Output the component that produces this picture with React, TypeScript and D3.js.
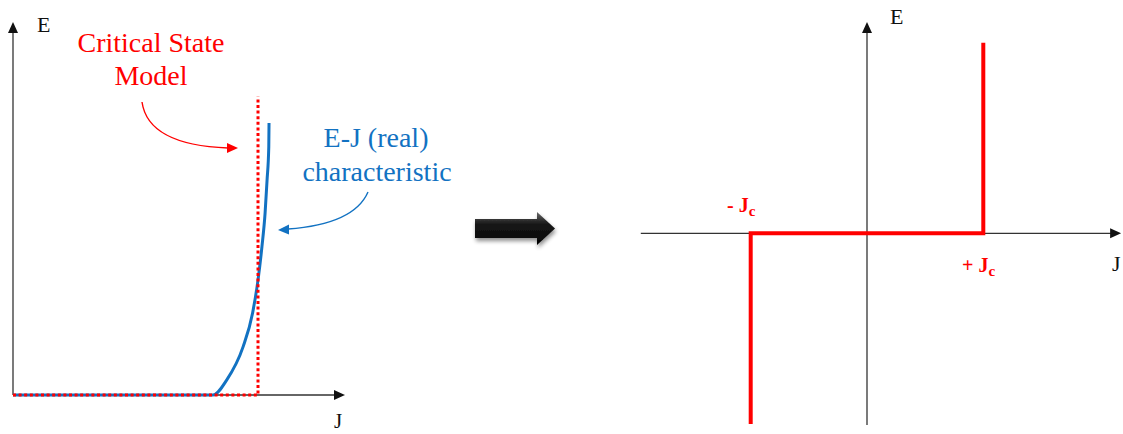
import React from "react";
import * as d3 from "d3";

// ---- Data ----
// Left panel: real E-J characteristic (J in units of Jc, E normalised)
const realJ = [0, 0.816, 0.872, 0.939, 0.978, 1.0, 1.016, 1.029, 1.037, 1.044, 1.045];
const realE = [0, 0, 0.04, 0.129, 0.22, 0.308, 0.397, 0.488, 0.576, 0.665, 0.729];
// Critical state model (left panel)
const csmJ = [0, 1, 1];
const csmE = [0, 0, 0.8];
// Right panel: critical state model step
const stepJ = [-1, -1, 1, 1];
const stepE = [-1, 0, 0, 1];
// Axis extents
const leftJMax = 1.355;
const leftEMax = 1.0;
const rightJRange = [-1.945, 2.185];
const rightERange = [-1.005, 1.109];
const labels = {
  csm: ["Critical State", "Model"],
  real: ["E-J (real)", "characteristic"],
  E: "E",
  J: "J",
};

const RED = "#ff0000";
const BLUE = "#1272c2";
const AX = "#333";

export default function App() {
  const xL = d3.scaleLinear().domain([0, 1]).range([13, 258]);
  const yL = d3.scaleLinear().domain([0, 1]).range([395, 22]);
  const xR = d3.scaleLinear().domain([-1, 1]).range([750.7, 983.3]);
  const yR = d3.scaleLinear().domain([-1, 1]).range([424, 42.7]);

  const realPts: [number, number][] = realJ.map((j, i) => [xL(j), yL(realE[i])]);
  const realPath = d3.line().curve(d3.curveMonotoneX)(realPts) || "";
  const csmPath = d3.line()(csmJ.map((j, i) => [xL(j), yL(csmE[i])] as [number, number])) || "";
  const stepPath = d3.line()(stepJ.map((j, i) => [xR(j), yR(stepE[i])] as [number, number])) || "";

  const serif: React.CSSProperties = { fontFamily: "'Liberation Serif', 'DejaVu Serif', serif" };

  const arrowUp = (x: number, y: number) => `M${x},${y} L${x - 5},${y + 11} L${x + 5},${y + 11} Z`;
  const arrowRight = (x: number, y: number) => `M${x},${y} L${x - 11},${y - 5} L${x - 11},${y + 5} Z`;

  return (
    <svg
      width={1123}
      height={434}
      style={{ position: "absolute", left: 0, top: 0, background: "#fff" }}
    >
      <defs>
        <linearGradient id="bigArrow" x1="0" y1="0" x2="0" y2="1">
          <stop offset="0" stopColor="#6a6a6a" />
          <stop offset="0.35" stopColor="#1a1a1a" />
          <stop offset="1" stopColor="#000" />
        </linearGradient>
        <filter id="shadow" x="-20%" y="-40%" width="150%" height="190%">
          <feGaussianBlur in="SourceAlpha" stdDeviation="2" />
          <feOffset dx="1" dy="3" result="b" />
          <feComponentTransfer>
            <feFuncA type="linear" slope="0.45" />
          </feComponentTransfer>
          <feMerge>
            <feMergeNode />
            <feMergeNode in="SourceGraphic" />
          </feMerge>
        </filter>
      </defs>

      {/* ---------- Left panel ---------- */}
      <line x1={xL(0)} y1={yL(0)} x2={xL(0)} y2={yL(leftEMax) + 10} stroke={AX} strokeWidth={1.3} />
      <path d={arrowUp(xL(0), yL(leftEMax))} fill="#111" />
      <line x1={xL(0)} y1={yL(0)} x2={xL(leftJMax) - 10} y2={yL(0)} stroke={AX} strokeWidth={1.3} />
      <path d={arrowRight(xL(leftJMax), yL(0))} fill="#111" />
      <text x={37} y={32} fontSize={22} fill="#111" style={serif}>{labels.E}</text>
      <text x={334} y={428} fontSize={21} fill="#111" style={serif}>{labels.J}</text>

      <path d={realPath} fill="none" stroke={BLUE} strokeWidth={3} />
      <path d={csmPath} fill="none" stroke={RED} strokeWidth={3} strokeDasharray="3,2.6" />

      <text x={151} y={52} fontSize={28} fill={RED} textAnchor="middle" style={serif}>{labels.csm[0]}</text>
      <text x={151} y={85} fontSize={28} fill={RED} textAnchor="middle" style={serif}>{labels.csm[1]}</text>
      <path d="M142,102 C146,130 175,146 228,148" fill="none" stroke={RED} strokeWidth={1.4} />
      <path d="M238,148 L227,143 L227,153 Z" fill={RED} />

      <text x={376} y={147} fontSize={28} fill={BLUE} textAnchor="middle" style={serif}>{labels.real[0]}</text>
      <text x={377} y={181} fontSize={28} fill={BLUE} textAnchor="middle" style={serif}>{labels.real[1]}</text>
      <path d="M368,192 C358,215 330,226 288,229" fill="none" stroke={BLUE} strokeWidth={1.4} />
      <path d="M278,230 L289,224.5 L289,234.5 Z" fill={BLUE} />

      {/* ---------- Big arrow ---------- */}
      <path
        d="M475,219 L537,219 L537,212 L555,228.5 L537,245 L537,238 L475,238 Z"
        fill="url(#bigArrow)"
        filter="url(#shadow)"
      />

      {/* ---------- Right panel ---------- */}
      <line x1={xR(0)} y1={yR(rightERange[0])} x2={xR(0)} y2={yR(rightERange[1]) + 10} stroke={AX} strokeWidth={1.3} />
      <path d={arrowUp(xR(0), yR(rightERange[1]))} fill="#111" />
      <line x1={xR(rightJRange[0])} y1={yR(0)} x2={xR(rightJRange[1]) - 10} y2={yR(0)} stroke={AX} strokeWidth={1.3} />
      <path d={arrowRight(xR(rightJRange[1]), yR(0))} fill="#111" />
      <text x={890} y={24} fontSize={22} fill="#111" style={serif}>{labels.E}</text>
      <text x={1112} y={271} fontSize={22} fill="#111" style={serif}>{labels.J}</text>

      <path d={stepPath} fill="none" stroke={RED} strokeWidth={4} strokeLinejoin="miter" />

      <text x={727} y={212} fontSize={20} fontWeight="bold" fill={RED} style={serif}>
        <tspan>- J</tspan>
        <tspan fontSize={15} dy={4}>c</tspan>
      </text>
      <text x={962} y={272} fontSize={20} fontWeight="bold" fill={RED} style={serif}>
        <tspan>+ J</tspan>
        <tspan fontSize={15} dy={4}>c</tspan>
      </text>
    </svg>
  );
}
